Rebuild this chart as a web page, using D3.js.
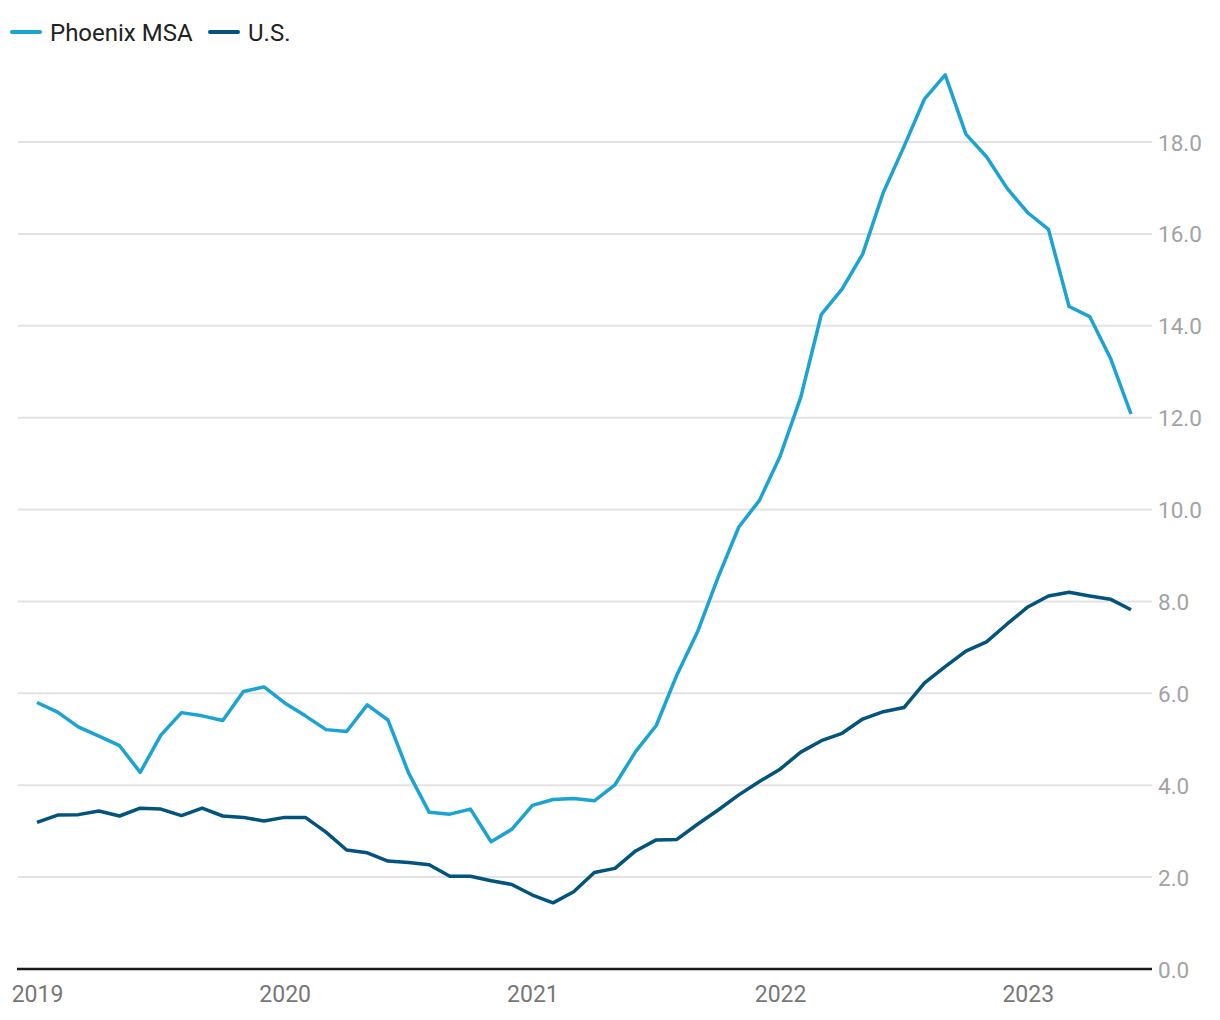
<!DOCTYPE html>
<html>
<head>
<meta charset="utf-8">
<script src="https://cdn.jsdelivr.net/npm/d3@7"></script>
<style>
  html, body { margin: 0; padding: 0; background: #fff; }
  svg text { font-family: Roboto, "Noto Sans", sans-serif; }
</style>
</head>
<body>
<svg id="chart" width="1220" height="1020"></svg>
<script>
// ---- data ----
const startMonth = "2019-01";
const seriesNames = ["Phoenix MSA", "U.S."];
const phoenix = [5.80, 5.59, 5.27, 5.07, 4.86, 4.28, 5.09, 5.58, 5.51, 5.41, 6.04, 6.14,
                 5.79, 5.51, 5.21, 5.17, 5.75, 5.42, 4.27, 3.41, 3.37, 3.48, 2.77, 3.04,
                 3.56, 3.69, 3.71, 3.66, 4.01, 4.73, 5.30, 6.40, 7.34, 8.53, 9.62, 10.20,
                 11.16, 12.44, 14.25, 14.80, 15.56, 16.90, 17.90, 18.94, 19.46, 18.17, 17.68, 16.99,
                 16.46, 16.10, 14.42, 14.20, 13.30, 12.08];
const us = [3.19, 3.35, 3.36, 3.44, 3.33, 3.50, 3.48, 3.34, 3.50, 3.33, 3.30, 3.22,
            3.30, 3.30, 2.98, 2.59, 2.53, 2.35, 2.32, 2.27, 2.02, 2.02, 1.92, 1.84,
            1.61, 1.44, 1.68, 2.10, 2.19, 2.57, 2.81, 2.82, 3.15, 3.46, 3.79, 4.08,
            4.35, 4.72, 4.97, 5.13, 5.44, 5.60, 5.69, 6.23, 6.58, 6.92, 7.12, 7.51,
            7.88, 8.12, 8.20, 8.12, 8.05, 7.82];
const yTicks = [0, 2, 4, 6, 8, 10, 12, 14, 16, 18];
const xTickLabels = ["2019", "2020", "2021", "2022", "2023"];
const colors = ["#1ba3d1", "#03547c"];

// ---- setup ----
const svg = d3.select("#chart");

const x = d3.scaleLinear().domain([0, phoenix.length - 1]).range([37, 1131]);
const y = d3.scaleLinear().domain([0, 18]).range([969, 142]);

// gridlines
svg.append("g")
  .selectAll("line")
  .data(yTicks.filter(d => d > 0))
  .join("line")
  .attr("x1", 18).attr("x2", 1152)
  .attr("y1", d => y(d)).attr("y2", d => y(d))
  .attr("stroke", "#e3e3e3").attr("stroke-width", 2);

// y axis labels (right)
const yAxis = d3.axisRight(y).tickValues(yTicks).tickFormat(d3.format(".1f")).tickSize(0).tickPadding(0);
const gy = svg.append("g").attr("transform", "translate(1158,0)").call(yAxis);
gy.select(".domain").remove();
gy.selectAll("text").attr("font-size", 22.5).attr("fill", "#a3a3a3")
  .attr("font-family", "Roboto, sans-serif").attr("dy", "0.36em");

// x axis
const xAxis = d3.axisBottom(x).tickValues([0, 12, 24, 36, 48])
  .tickFormat((d, i) => xTickLabels[i]).tickSize(0).tickPadding(17);
const gx = svg.append("g").attr("transform", "translate(0,969)").call(xAxis);
gx.select(".domain").remove();
gx.selectAll("text").attr("font-size", 23).attr("fill", "#777")
  .attr("font-family", "Roboto, sans-serif");

// baseline
svg.append("line")
  .attr("x1", 17).attr("x2", 1152)
  .attr("y1", y(0)).attr("y2", y(0))
  .attr("stroke", "#1a1a1a").attr("stroke-width", 2.5);

// lines
const line = d3.line().x((d, i) => x(i)).y(d => y(d));
[phoenix, us].forEach((s, k) => {
  svg.append("path")
    .datum(s)
    .attr("d", line)
    .attr("fill", "none")
    .attr("stroke", colors[k])
    .attr("stroke-width", 3.5)
    .attr("stroke-linejoin", "round")
    .attr("stroke-linecap", "butt");
});

// legend
const legend = svg.append("g").attr("transform", "translate(0,32)");
const legendX = [12, 210];
seriesNames.forEach((n, k) => {
  const g = legend.append("g").attr("transform", `translate(${legendX[k]},0)`);
  g.append("line").attr("x1", 0).attr("x2", 28).attr("y1", 0).attr("y2", 0)
    .attr("stroke", colors[k]).attr("stroke-width", 4).attr("stroke-linecap", "round");
  g.append("text").attr("x", 38).attr("y", 0).attr("dy", "0.36em")
    .attr("font-size", 24).attr("fill", "#222").text(n);
});
</script>
</body>
</html>
